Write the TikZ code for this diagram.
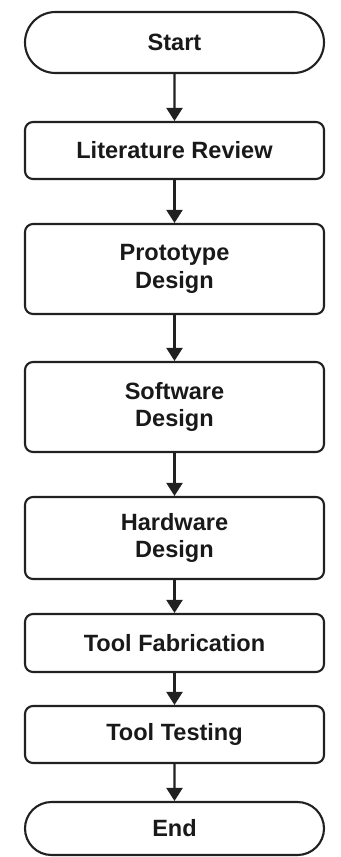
\documentclass[tikz,border=0pt]{standalone}
\usepackage{fontspec}
\setmainfont{Liberation Sans}
\usepackage{tikz}
\usetikzlibrary{positioning,arrows.meta,shapes.misc}
\newcommand{\fnode}[4]{\node [#1] (#2) at (#3) {#4}}

\begin{document}
\begin{tikzpicture}[
  line width=1.2pt, draw=black!87,
  box/.style={draw, rounded corners=0.16cm, minimum width=5.98cm, minimum height=#1,
    inner sep=0pt, align=center, text=black!90,
    font=\bfseries\fontsize{13.4}{15.5}\selectfont},
  term/.style={box=#1, rounded rectangle, rounded corners=0pt},
  >={Triangle[length=0.26cm,width=0.32cm]}
]
\useasboundingbox (0,0) rectangle (6.8,-17.14);

\fnode{term=1.22cm}{START}{3.49,-0.85}{Start};
\fnode{box=1.14cm}{LIT}{3.49,-3.01}{Literature Review};
\fnode{box=1.80cm}{PROTO}{3.49,-5.38}{Prototype\\Design};
\fnode{box=1.80cm}{SOFT}{3.49,-8.14}{Software\\Design};
\fnode{box=1.64cm}{HARD}{3.49,-10.76}{Hardware\\Design};
\fnode{box=1.16cm}{FAB}{3.49,-12.86}{Tool Fabrication};
\fnode{box=1.14cm}{TEST}{3.49,-14.69}{Tool Testing};
\fnode{term=1.06cm}{END}{3.49,-16.57}{End};

\draw[->] (START) -- (LIT);
\draw[->] (LIT) -- (PROTO);
\draw[->] (PROTO) -- (SOFT);
\draw[->] (SOFT) -- (HARD);
\draw[->] (HARD) -- (FAB);
\draw[->] (FAB) -- (TEST);
\draw[->] (TEST) -- (END);

\end{tikzpicture}
\end{document}
